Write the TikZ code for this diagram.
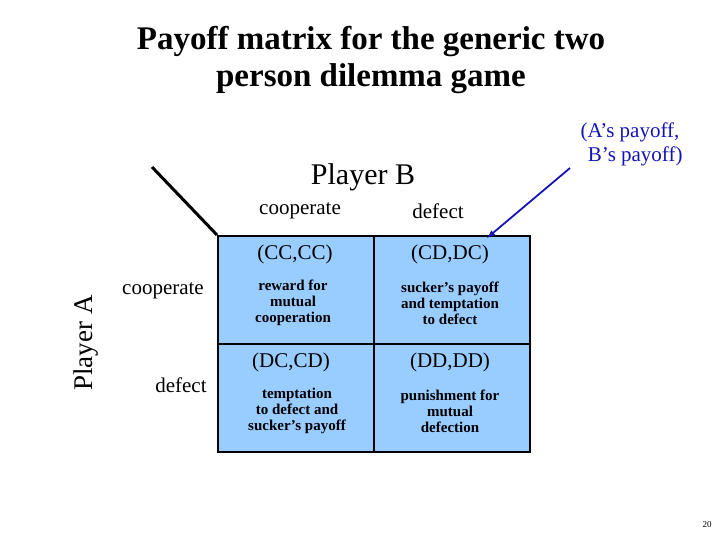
\documentclass[tikz,border=0pt]{standalone}
\usepackage{fontspec}
\setmainfont{Liberation Serif}
\definecolor{cellblue}{RGB}{153,204,255}
\definecolor{arrowblue}{RGB}{20,20,180}
\begin{document}
\begin{tikzpicture}[x=1pt,y=-1pt,
  cell/.style={draw=black,line width=2.2pt,fill=cellblue,minimum width=156pt,minimum height=108pt,anchor=north west},
  big/.style={font=\fontsize{21}{24}\selectfont},
  small/.style={font=\fontsize{15}{16}\selectfont\bfseries,align=center},
  lab/.style={font=\fontsize{21}{24}\selectfont}]
\useasboundingbox (0,0) rectangle (720,540);
\node[font=\fontsize{33}{37}\selectfont\bfseries,align=center] (title) at (371,60) {Payoff matrix for the generic two\\person dilemma game};
\node[cell] (c11) at (217,235) {};
\node[cell] (c12) at (373,235) {};
\node[cell] (c21) at (217,343) {};
\node[cell] (c22) at (373,343) {};
\node[big] (t11) at (295,254) {(CC,CC)};
\node[small] (s11) at (293,303) {reward for\\mutual\\cooperation};
\node[big] (t12) at (450,254) {(CD,DC)};
\node[small] (s12) at (450,303) {sucker’s payoff\\and temptation\\to defect};
\node[big] (t21) at (291,362) {(DC,CD)};
\node[small] (s21) at (297,411) {temptation\\to defect and\\sucker’s payoff};
\node[big] (t22) at (450,362) {(DD,DD)};
\node[small] (s22) at (450,411) {punishment for\\mutual\\defection};
\node[font=\fontsize{30}{34}\selectfont] (pb) at (363,177) {Player B};
\node[lab] (bc) at (300,211) {cooperate};
\node[lab] (bd) at (438,211) {defect};
\node[lab] (ac) at (163,291) {cooperate};
\node[lab] (ad) at (181,385) {defect};
\node[font=\fontsize{27}{30}\selectfont,rotate=90] (pa) at (86,343) {Player A};
\node[font=\fontsize{21}{24}\selectfont,text=arrowblue,align=center] (note) at (630,144) {(A’s payoff,\\\ \ B’s payoff)};
\coordinate (d0) at (152,167);
\draw[line width=3pt] (d0) -- (c11.north west);
\coordinate (a0) at (570,168);
\coordinate (a1) at (487,238);
\draw[arrowblue,line width=1.8pt,-latex] (a0) -- (a1);
\node[font=\fontsize{9}{10}\selectfont] (pg) at (707,525) {20};
\end{tikzpicture}
\end{document}
